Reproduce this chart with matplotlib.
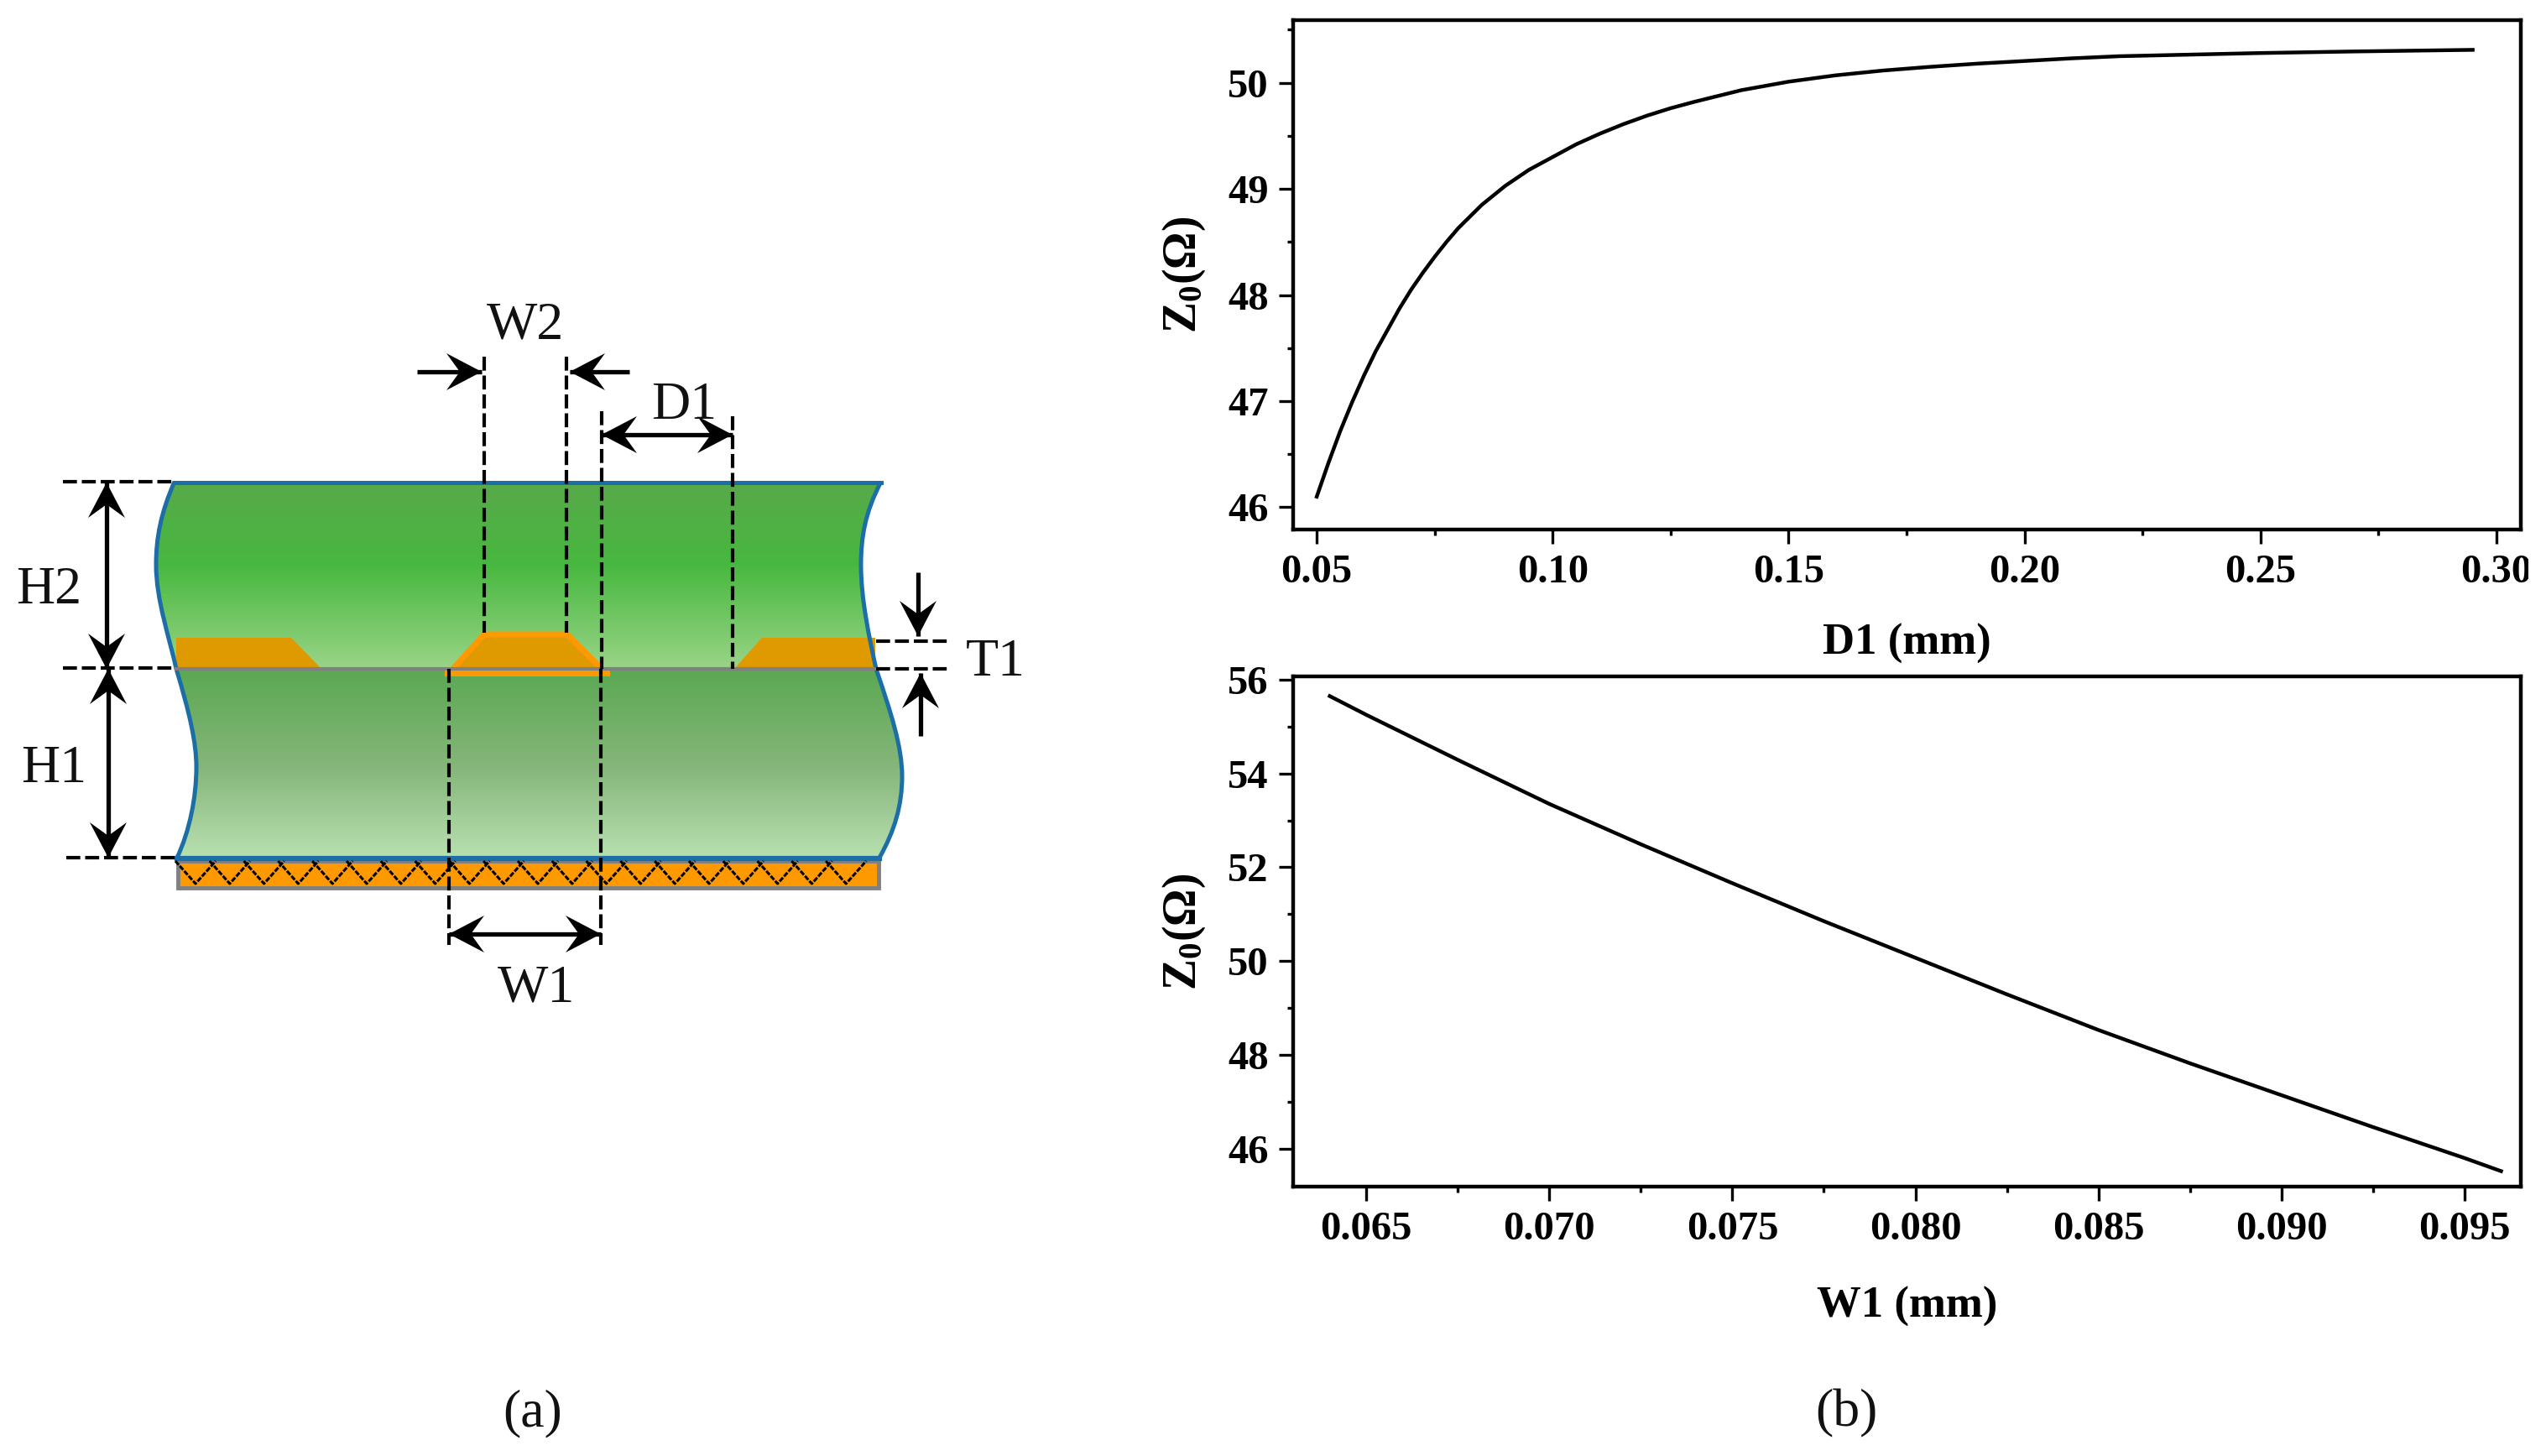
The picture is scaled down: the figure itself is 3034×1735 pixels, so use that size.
import matplotlib

matplotlib.use("Agg")
import matplotlib.pyplot as plt
import numpy as np
from matplotlib.colors import LinearSegmentedColormap
from matplotlib.patches import PathPatch, Polygon, Rectangle
from matplotlib.path import Path
from matplotlib.ticker import MultipleLocator
from matplotlib.transforms import Bbox

W, H = 3034, 1735

# readings for the two curves
d1_mm = [0.05, 0.0525, 0.055, 0.0575, 0.06, 0.0625, 0.065, 0.0675, 0.07, 0.0725, 0.075, 0.0775, 0.08,
         0.085, 0.09, 0.095, 0.10, 0.105, 0.11, 0.115, 0.12, 0.125, 0.13, 0.14, 0.15, 0.16, 0.17, 0.18,
         0.19, 0.20, 0.21, 0.22, 0.23, 0.25, 0.27, 0.295]
z0_d1 = [46.10, 46.42, 46.72, 46.99, 47.24, 47.47, 47.67, 47.87, 48.05, 48.21, 48.36, 48.50, 48.63,
         48.85, 49.03, 49.18, 49.30, 49.42, 49.52, 49.61, 49.69, 49.76, 49.82, 49.93, 50.01, 50.07, 50.115, 50.15,
         50.18, 50.205, 50.23, 50.25, 50.26, 50.28, 50.295, 50.31]
w1_mm = [0.064, 0.065, 0.0675, 0.07, 0.0725, 0.075, 0.0775, 0.08, 0.0825, 0.085, 0.0875, 0.09, 0.0925, 0.095, 0.096]
z0_w1 = [55.65, 55.25, 54.29, 53.35, 52.49, 51.66, 50.85, 50.07, 49.29, 48.53, 47.82, 47.14, 46.46, 45.80, 45.52]

d1_ticks = [0.05, 0.10, 0.15, 0.20, 0.25, 0.30]
w1_ticks = [0.065, 0.070, 0.075, 0.080, 0.085, 0.090, 0.095]

BLUE = "#1B6EA6"
ORANGE = "#FF9900"
COPPER = "#DE9A00"
GREY = "#808080"

plt.rcParams["font.family"] = ["Liberation Serif", "DejaVu Serif"]
plt.rcParams["mathtext.fontset"] = "custom"
plt.rcParams["mathtext.rm"] = "Liberation Serif:bold"
plt.rcParams["mathtext.bf"] = "Liberation Serif:bold"
plt.rcParams["mathtext.default"] = "regular"

fig = plt.figure(figsize=(W / 100, H / 100), dpi=100, facecolor="white")


def px_axes(left, top, right, bottom):
    return fig.add_axes([left / W, 1 - bottom / H, (right - left) / W, (bottom - top) / H])


# ---- (a) cross section, drawn in picture pixels
dg = fig.add_axes([0, 0, 1, 1], zorder=0)

upper_left = [(208, 574), (192, 610), (186, 640), (186, 673), (186, 715), (202, 760), (210, 797)]
upper_right = [(1050, 574), (1031, 610), (1026, 640), (1026, 673), (1026, 715), (1036, 760), (1044, 797)]
lower_left = [(210, 797), (226, 850), (234, 885), (234, 914), (234, 950), (226, 990), (211, 1022)]
lower_right = [(1044, 797), (1062, 850), (1075, 890), (1075, 925), (1075, 960), (1066, 990), (1048, 1022)]


def curve(pts):
    return Path(pts, [Path.MOVETO] + [Path.CURVE4] * (len(pts) - 1))


def layer(left, right, stops):
    # outline runs down the left side and back up the right side
    verts = left + right[::-1] + [left[0]]
    codes = [Path.MOVETO] + [Path.CURVE4] * (len(left) - 1) + [Path.LINETO] + [Path.CURVE4] * (len(right) - 1) + [Path.CLOSEPOLY]
    patch = PathPatch(Path(verts, codes), fc="none", ec="none", transform=dg.transData)
    dg.add_patch(patch)
    top, bottom = left[0][1], left[-1][1]
    cmap = LinearSegmentedColormap.from_list("g", stops)
    im = dg.imshow(np.linspace(0, 1, 256)[:, None], cmap=cmap, aspect="auto",
                   extent=(150, 1110, bottom, top), interpolation="bilinear", zorder=1)
    im.set_clip_path(patch)


layer(upper_left, upper_right, [(0, "#58A94A"), (0.44, "#47B83F"), (1, "#9AD487")])
layer(lower_left, lower_right, [(0, "#5BA852"), (0.52, "#85B67A"), (1, "#B8E0B0")])

for side in [upper_left, upper_right, lower_left, lower_right]:
    dg.add_patch(PathPatch(curve(side), fc="none", ec=BLUE, lw=3.6, zorder=3))
dg.plot([208, 1050], [575, 575], color=BLUE, lw=3.6, zorder=3)
dg.plot([211, 1048], [1023, 1023], color=BLUE, lw=4.5, zorder=3)

# copper traces
dg.add_patch(Polygon([(210, 760), (347, 760), (383, 797), (210, 797)], fc=COPPER, ec="none", zorder=2))
dg.add_patch(Polygon([(875, 797), (908, 760), (1043, 760), (1043, 797)], fc=COPPER, ec="none", zorder=2))
dg.add_patch(Polygon([(537, 800), (577, 756), (676, 756), (720, 800)], fc=COPPER, ec=ORANGE, lw=5, zorder=2))
dg.add_patch(Rectangle((530, 799), 197, 7, fc=ORANGE, ec="none", zorder=2))
dg.plot([210, 1044], [797, 797], color=GREY, lw=3, zorder=4)

# ground plane with zigzag hatch
dg.add_patch(Rectangle((212, 1026), 835, 32, fc=ORANGE, ec=GREY, lw=3.5, zorder=2))
for vx in np.arange(233, 1036, 40.8):
    dg.plot([vx - 24, vx, vx + 24], [1026, 1053, 1026], color="black", lw=2.2, ls=(0, (2, 0.6)), zorder=3)

# dashed guides
v_guides = [(577, 425, 754), (675, 425, 754), (717, 490, 797), (873, 496, 797), (535, 797, 1126), (716, 797, 1126)]
h_guides = [(75, 208, 574), (75, 208, 796), (79, 212, 1022), (1044, 1131, 764), (1044, 1131, 797)]
for x, y0, y1 in v_guides:
    dg.plot([x, x], [y0, y1], color="black", lw=3, ls=(0, (4, 1.4)), zorder=5)
for x0, x1, y in h_guides:
    dg.plot([x0, x1], [y, y], color="black", lw=3, ls=(0, (4, 1.4)), zorder=5)


def head(tip, ux, uy, length=42, half=22):
    # barbed arrow head pointing along (ux, uy)
    tx, ty = tip
    px, py = -uy, ux
    pts = [(tx, ty),
           (tx - ux * length + px * half, ty - uy * length + py * half),
           (tx - ux * length * 0.62, ty - uy * length * 0.62),
           (tx - ux * length - px * half, ty - uy * length - py * half)]
    dg.add_patch(Polygon(pts, fc="black", ec="none", zorder=6))


def arrow(a, b, both=False):
    v = np.subtract(b, a, dtype=float)
    ux, uy = v / np.hypot(*v)
    dg.plot([a[0], b[0]], [a[1], b[1]], color="black", lw=3.8, zorder=6, solid_capstyle="butt")
    head(b, ux, uy)
    if both:
        head(a, -ux, -uy)


arrow((127, 575), (127, 797), both=True)
arrow((129, 797), (129, 1022), both=True)
arrow((717, 518), (873, 518), both=True)
arrow((535, 1113), (716, 1113), both=True)
arrow((497, 443), (574, 443))
arrow((750, 443), (679, 443))
arrow((1094, 682), (1094, 758))
arrow((1097, 877), (1097, 802))

diagram_labels = ["W2", "D1", "H2", "H1", "T1", "W1", "(a)", "(b)"]
label_xy = [(626, 388), (815, 484), (58, 704), (64, 917), (1186, 790), (639, 1178), (635, 1684), (2200, 1684)]
for s, (x, y) in zip(diagram_labels, label_xy):
    dg.text(x, y, s, fontsize=46, ha="center", va="center", color="#111111", zorder=7)

dg.set_xlim(0, W)
dg.set_ylim(H, 0)
dg.axis("off")


# ---- (b) impedance curves
def style_axes(ax, ylabel, xlabel, xlabel_y):
    for s in ax.spines.values():
        s.set_linewidth(3.2)
    ax.tick_params(which="major", direction="out", length=12, width=2.4, labelsize=35, pad=9)
    ax.tick_params(which="minor", direction="out", length=5, width=2.4)
    for lab in ax.get_xticklabels() + ax.get_yticklabels():
        lab.set_fontweight("bold")
    ax.set_ylabel(ylabel, fontsize=40, fontweight="bold")
    ax.yaxis.set_label_coords(-0.07, 0.5)
    ax.set_xlabel(xlabel, fontsize=38, fontweight="bold")
    ax.xaxis.set_label_coords(0.5, xlabel_y)


ax1 = px_axes(1541, 24, 3004, 631)
ax1.plot(d1_mm, z0_d1, color="black", lw=3.2)
ax1.set_xlim(0.045, 0.3052)
ax1.set_ylim(45.79, 50.59)
ax1.set_xticks(d1_ticks)
ax1.set_xticklabels([f"{t:.2f}" for t in d1_ticks])
ax1.set_yticks([46, 47, 48, 49, 50])
ax1.xaxis.set_minor_locator(MultipleLocator(0.025))
ax1.yaxis.set_minor_locator(MultipleLocator(0.5))
style_axes(ax1, r"Z$_{0}$(Ω)", "D1 (mm)", -0.185)

ax2 = px_axes(1541, 806, 3004, 1414)
ax2.plot(w1_mm, z0_w1, color="black", lw=3.2)
ax2.set_xlim(0.0630, 0.09654)
ax2.set_ylim(45.19, 56.07)
ax2.set_xticks(w1_ticks)
ax2.set_xticklabels([f"{t:.3f}" for t in w1_ticks])
ax2.set_yticks([46, 48, 50, 52, 54, 56])
ax2.xaxis.set_minor_locator(MultipleLocator(0.0025))
ax2.yaxis.set_minor_locator(MultipleLocator(1))
style_axes(ax2, r"Z$_{0}$(Ω)", "W1 (mm)", -0.195)

# the last tick label runs off the cropped panel
ax1.get_xticklabels()[-1].set_clip_box(Bbox([[0, 0], [3013, H]]))
ax1.get_xticklabels()[-1].set_clip_on(True)

fig.savefig("out.png", dpi=100)
